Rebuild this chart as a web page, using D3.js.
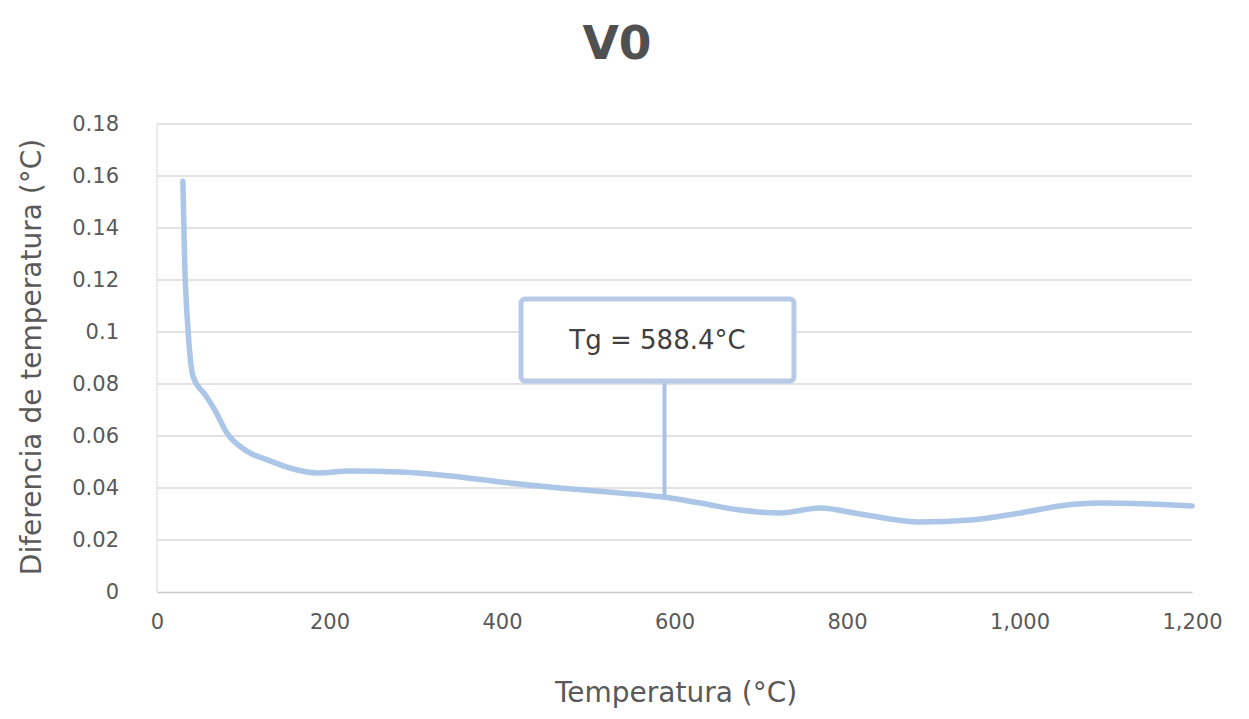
<!DOCTYPE html>
<html>
<head>
<meta charset="utf-8">
<script src="https://cdn.jsdelivr.net/npm/d3@7"></script>
<style>
  html, body { margin: 0; padding: 0; background: #fff; }
  svg { display: block; font-family: "DejaVu Sans", sans-serif; }
</style>
</head>
<body>
<svg id="chart" width="1249" height="719"></svg>
<script>
// Temperature (°C) of each reading
const temperature = [30, 32, 36, 42, 56, 67, 81, 102, 128, 154, 186, 224, 282, 340, 398, 467, 537, 587,
  630, 676, 722, 769, 815, 885, 943, 1001, 1047, 1093, 1151, 1200];
// Temperature difference (°C) measured at each reading
const tempDiff = [0.158, 0.128, 0.1008, 0.0827, 0.0758, 0.070, 0.0612, 0.0546, 0.0508, 0.0477, 0.0458,
  0.0465, 0.0462, 0.0446, 0.0423, 0.040, 0.0381, 0.0365, 0.0342, 0.0315, 0.0304, 0.0323, 0.030,
  0.0269, 0.0277, 0.0304, 0.0331, 0.0342, 0.0338, 0.0331];
const xTicks = [0, 200, 400, 600, 800, 1000, 1200];
const yTicks = [0, 0.02, 0.04, 0.06, 0.08, 0.1, 0.12, 0.14, 0.16, 0.18];
const tg = 588.4; // glass transition temperature marked by the callout

const svg = d3.select("#chart");
const plot = { left: 157, right: 1192, top: 124, bottom: 592 };

const x = d3.scaleLinear().domain([0, 1200]).range([plot.left, plot.right]);
const y = d3.scaleLinear().domain([0, 0.18]).range([plot.bottom, plot.top]);

// Horizontal gridlines
svg.append("g")
  .selectAll("line")
  .data(yTicks.filter(d => d > 0))
  .join("line")
  .attr("x1", plot.left).attr("x2", plot.right)
  .attr("y1", d => y(d)).attr("y2", d => y(d))
  .attr("stroke", "#d9d9d9").attr("stroke-width", 1.5);

// Left and bottom axis lines
svg.append("line")
  .attr("x1", plot.left).attr("x2", plot.left)
  .attr("y1", plot.top).attr("y2", plot.bottom)
  .attr("stroke", "#e0e0e0").attr("stroke-width", 1.3);

const xAxis = svg.append("g")
  .attr("transform", `translate(0,${plot.bottom})`)
  .call(d3.axisBottom(x).tickValues(xTicks).tickSize(0).tickPadding(22)
    .tickFormat(d3.format(",")));
xAxis.select(".domain").attr("stroke", "#c8c8c8").attr("stroke-width", 1.5);
xAxis.selectAll("text").attr("font-size", 21).attr("fill", "#595959")
  .attr("font-family", "DejaVu Sans, sans-serif");

const yAxis = svg.append("g")
  .attr("transform", `translate(${plot.left},0)`)
  .call(d3.axisLeft(y).tickValues(yTicks).tickSize(0).tickPadding(38)
    .tickFormat(d => d === 0 ? "0" : d3.format("~g")(d)));
yAxis.select(".domain").remove();
yAxis.selectAll("text").attr("font-size", 21).attr("fill", "#595959")
  .attr("font-family", "DejaVu Sans, sans-serif");

// Measured curve
const points = temperature.map((t, i) => [t, tempDiff[i]]);
const line = d3.line()
  .x(d => x(d[0]))
  .y(d => y(d[1]))
  .curve(d3.curveMonotoneX);

svg.append("path")
  .datum(points)
  .attr("d", line)
  .attr("fill", "none")
  .attr("stroke", "#abc6e7")
  .attr("stroke-width", 5.5)
  .attr("stroke-linejoin", "round")
  .attr("stroke-linecap", "round");

// Tg callout
const tgIdx = d3.bisectLeft(temperature, tg);
const t0 = temperature[tgIdx - 1], t1 = temperature[tgIdx];
const tgValue = tempDiff[tgIdx - 1] + (tempDiff[tgIdx] - tempDiff[tgIdx - 1]) * (tg - t0) / (t1 - t0);

const box = { x: 521, y: 299, w: 273, h: 82 };
svg.append("line")
  .attr("x1", x(tg)).attr("x2", x(tg))
  .attr("y1", box.y + box.h).attr("y2", y(tgValue))
  .attr("stroke", "#a8c3e5").attr("stroke-width", 4);

svg.append("rect")
  .attr("x", box.x).attr("y", box.y)
  .attr("width", box.w).attr("height", box.h)
  .attr("rx", 4)
  .attr("fill", "#fff")
  .attr("stroke", "#b7cbe9").attr("stroke-width", 5);

svg.append("text")
  .attr("x", box.x + box.w / 2)
  .attr("y", box.y + box.h / 2 + 9)
  .attr("text-anchor", "middle")
  .attr("font-size", 26)
  .attr("fill", "#404040")
  .text(`Tg = ${tg}°C`);

// Title
svg.append("text")
  .attr("x", 617).attr("y", 59)
  .attr("text-anchor", "middle")
  .attr("font-size", 47).attr("font-weight", "bold")
  .attr("fill", "#505050")
  .text("V0");

// Axis titles
svg.append("text")
  .attr("x", 676).attr("y", 702)
  .attr("text-anchor", "middle")
  .attr("font-size", 28)
  .attr("fill", "#595959")
  .text("Temperatura (°C)");

svg.append("text")
  .attr("transform", "translate(41,357) rotate(-90)")
  .attr("text-anchor", "middle")
  .attr("font-size", 28)
  .attr("fill", "#595959")
  .text("Diferencia de temperatura (°C)");
</script>
</body>
</html>
